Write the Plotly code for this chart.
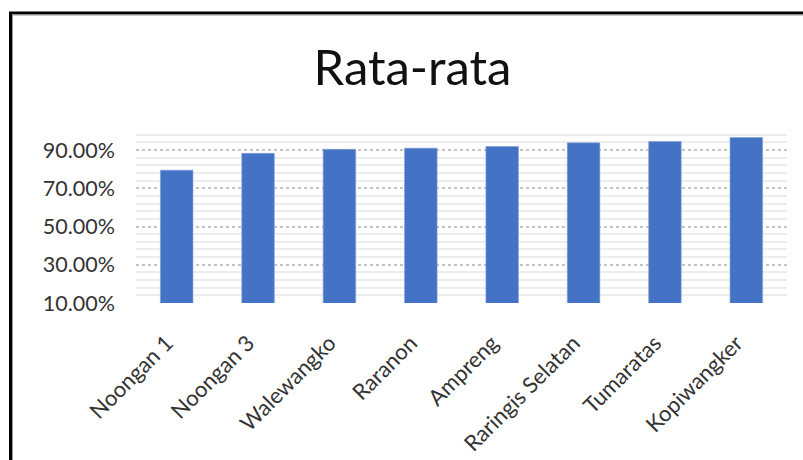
import plotly.graph_objects as go

categories = ["Noongan 1", "Noongan 3", "Walewangko", "Raranon", "Ampreng",
              "Raringis Selatan", "Tumaratas", "Kopiwangker"]
values = [0.795, 0.883, 0.904, 0.910, 0.919, 0.938, 0.945, 0.966]
title_text = "Rata-rata"

W, H = 803, 460
L, R, T, B = 136, 16, 131, 157
pw, ph = W - L - R, H - T - B

def px_x(x):
    return (x - L) / pw

def px_y(y):
    return (H - B - y) / ph

fig = go.Figure(go.Bar(
    x=categories, y=values,
    marker=dict(color="#4472C4", line=dict(width=0.6, color="#7f9fd8")),
    width=0.4,
))

fig.update_layout(
    width=W, height=H,
    margin=dict(l=L, r=R, t=T, b=B, autoexpand=False),
    paper_bgcolor="white", plot_bgcolor="white",
    showlegend=False,
    font=dict(family="Lato", color="#333333"),
    title=dict(text=title_text, x=412.5 / W, xanchor="center", xref="container",
               y=1 - 68 / H, yanchor="middle", yref="container", automargin=False,
               font=dict(family="Lato", size=49, color="#111111")),
    xaxis=dict(tickangle=-45, tickfont=dict(size=22, color="#333333"), automargin=False,
               showgrid=False, showline=False, ticks="", ticklabelstandoff=22,
               ticklabelshift=-10),
    yaxis=dict(range=[0.1, 1.0], tick0=0.1, dtick=0.2, tickformat=".2%", automargin=False,
               tickfont=dict(size=21.5, color="#333333"), ticks="",
               showline=False, zeroline=False, ticklabelstandoff=20,
               showgrid=True, gridcolor="#c4c4c4", gridwidth=1.5, griddash="dot",
               minor=dict(tick0=0.1, dtick=0.04, showgrid=True, griddash="solid",
                          gridcolor="#ededed", gridwidth=2)),
    shapes=[
        dict(type="line", xref="paper", yref="paper",
             x0=px_x(10.5), y0=px_y(470), x1=px_x(10.5), y1=px_y(12),
             line=dict(color="black", width=3)),
        dict(type="line", xref="paper", yref="paper",
             x0=px_x(9), y0=px_y(13), x1=px_x(810), y1=px_y(13),
             line=dict(color="black", width=3)),
        dict(type="line", xref="paper", yref="paper",
             x0=px_x(12.5), y0=px_y(470), x1=px_x(12.5), y1=px_y(15),
             line=dict(color="#9a9a9a", width=1)),
        dict(type="line", xref="paper", yref="paper",
             x0=px_x(12.5), y0=px_y(15), x1=px_x(810), y1=px_y(15),
             line=dict(color="#9a9a9a", width=1)),
    ],
)

fig.write_html("out.html")
